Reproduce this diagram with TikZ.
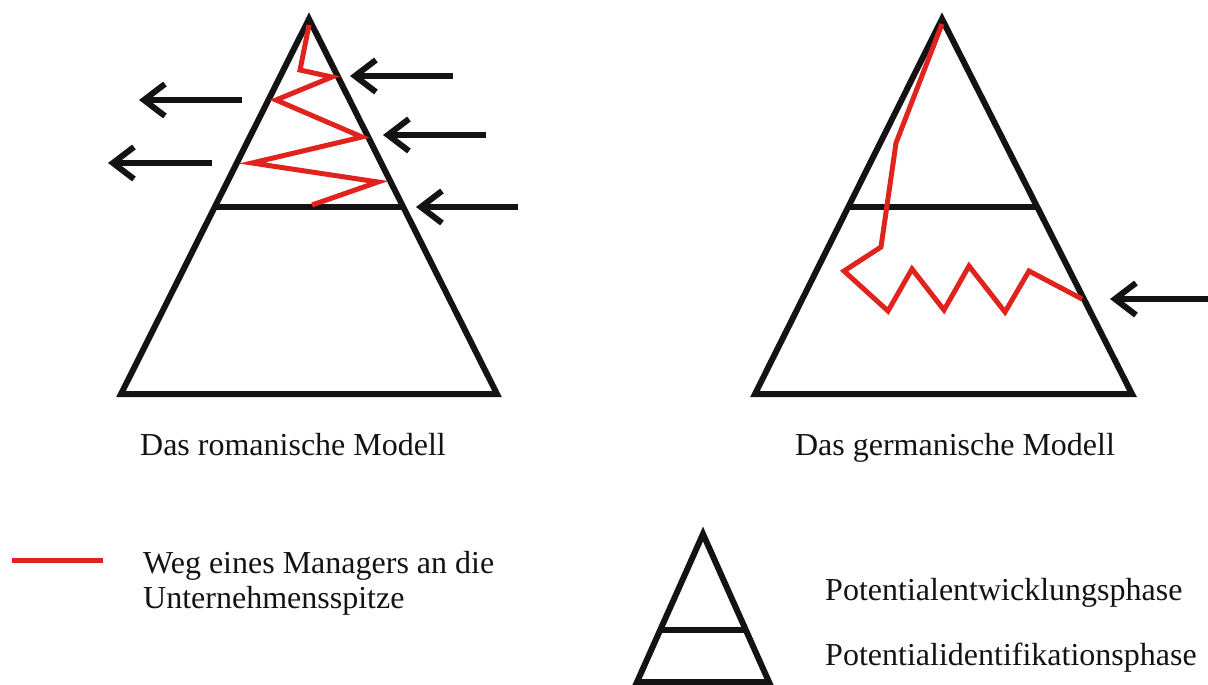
\documentclass[tikz,border=0pt]{standalone}
\usepackage{fontspec}
\setmainfont{Liberation Serif}
\usetikzlibrary{arrows.meta}
\definecolor{mgrred}{RGB}{225,35,30}
\definecolor{ink}{RGB}{20,18,18}
\tikzset{
  pyr/.style={draw=ink, line width=6pt, line join=miter},
  split/.style={draw=ink, line width=6pt},
  path red/.style={draw=mgrred, line width=5pt, line join=miter},
  entry/.style={draw=ink, line width=6pt, -{Straight Barb[length=21pt,width=32pt]}},
  lbl/.style={inner sep=0pt, font=\fontsize{32}{36}\selectfont, text=ink},
}
\begin{document}
\begin{tikzpicture}[x=1pt,y=-1pt]
\useasboundingbox (0,0) rectangle (1208,685);
% left pyramid
\draw[pyr] (309,19) coordinate (LA) -- (121,394) coordinate (LBL) -- (497,394) coordinate (LBR) -- cycle;
\draw[split] (214,207) coordinate (LML) -- (404,207) coordinate (LMR);
\draw[path red] (309,25) -- (300,70) -- (332,77) -- (276,100) -- (362,137) -- (252,163) -- (378,182) -- (312,205);
% arrows left model
\coordinate (a1s) at (453,76);  \coordinate (a1e) at (350,76);
\coordinate (a2s) at (486,135); \coordinate (a2e) at (383,135);
\coordinate (a3s) at (518,207); \coordinate (a3e) at (416,207);
\coordinate (b1s) at (242,100); \coordinate (b1e) at (139,100);
\coordinate (b2s) at (212,163); \coordinate (b2e) at (108,163);
\draw[entry] (a1s) -- (a1e);
\draw[entry] (a2s) -- (a2e);
\draw[entry] (a3s) -- (a3e);
\draw[entry] (b1s) -- (b1e);
\draw[entry] (b2s) -- (b2e);
% right pyramid
\draw[pyr] (942,19) coordinate (RA) -- (755,394) coordinate (RBL) -- (1132,394) coordinate (RBR) -- cycle;
\draw[split] (847,207) coordinate (RML) -- (1036,207) coordinate (RMR);
\draw[path red] (942,24) -- (896,143) -- (881,247) -- (844,271) -- (888,311) -- (912,269) -- (944,310) -- (969,266) -- (1005,312) -- (1029,271) -- (1082,299);
\coordinate (c1s) at (1208,299); \coordinate (c1e) at (1110,299);
\draw[entry] (c1s) -- (c1e);
% captions
\node[lbl, anchor=base] (capL) at (293,455) {Das romanische Modell};
\node[lbl, anchor=base] (capR) at (955,455) {Das germanische Modell};
% legend
\draw[path red] (12,560) coordinate (legA) -- (103,560) coordinate (legB);
\node[lbl, anchor=base west, align=left] (legT) at (143,573) {Weg eines Managers an die};
\node[lbl, anchor=base west, align=left] (legT2) at (143,608) {Unternehmensspitze};
\draw[pyr] (703,534) coordinate (SA) -- (637,682) coordinate (SBL) -- (769,682) coordinate (SBR) -- cycle;
\draw[split] (662,630) coordinate (SML) -- (744,630) coordinate (SMR);
\node[lbl, anchor=base west] (ph1) at (825,600) {Potentialentwicklungsphase};
\node[lbl, anchor=base west] (ph2) at (825,665) {Potentialidentifikationsphase};
\end{tikzpicture}
\end{document}
